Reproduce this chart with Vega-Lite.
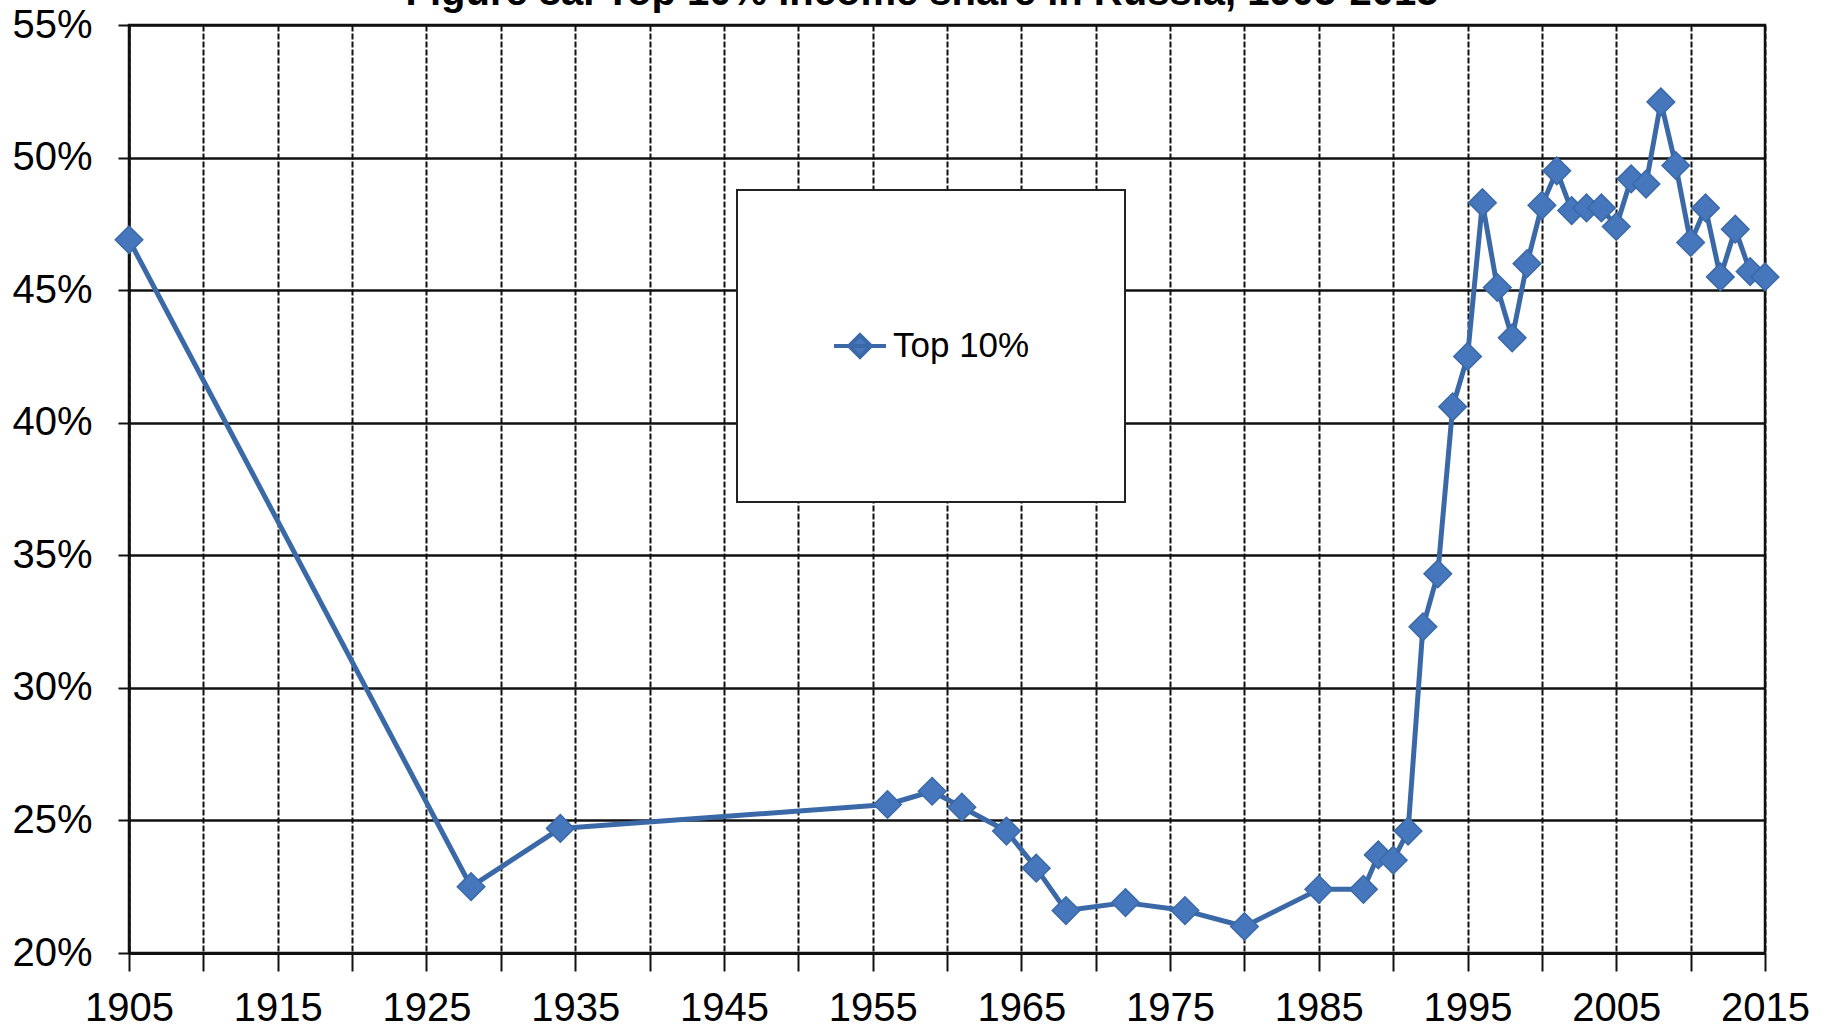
{
  "$schema": "https://vega.github.io/schema/vega-lite/v6.json",
  "width": 1636,
  "height": 928,
  "autosize": {"type": "none"},
  "padding": {"left": 129, "top": 25, "right": 64, "bottom": 76},
  "background": "white",
  "title": {
    "text": "Figure 8a. Top 10% income share in Russia, 1905-2015",
    "font": "Liberation Sans",
    "fontSize": 40,
    "fontWeight": "bold",
    "color": "#000000",
    "anchor": "middle",
    "baseline": "alphabetic",
    "offset": -40,
    "dx": -25
  },
  "config": {
    "view": {"stroke": "#111111", "strokeWidth": 2.5},
    "font": "Liberation Sans"
  },
  "data": {
    "values": [
      {"year": 1905, "share": 46.9},
      {"year": 1928, "share": 22.5},
      {"year": 1934, "share": 24.7},
      {"year": 1956, "share": 25.6},
      {"year": 1959, "share": 26.1},
      {"year": 1961, "share": 25.5},
      {"year": 1964, "share": 24.6},
      {"year": 1966, "share": 23.2},
      {"year": 1968, "share": 21.6},
      {"year": 1972, "share": 21.9},
      {"year": 1976, "share": 21.6},
      {"year": 1980, "share": 21.0},
      {"year": 1985, "share": 22.4},
      {"year": 1988, "share": 22.4},
      {"year": 1989, "share": 23.7},
      {"year": 1990, "share": 23.5},
      {"year": 1991, "share": 24.6},
      {"year": 1992, "share": 32.3},
      {"year": 1993, "share": 34.3},
      {"year": 1994, "share": 40.6},
      {"year": 1995, "share": 42.5},
      {"year": 1996, "share": 48.3},
      {"year": 1997, "share": 45.1},
      {"year": 1998, "share": 43.2},
      {"year": 1999, "share": 46.0},
      {"year": 2000, "share": 48.2},
      {"year": 2001, "share": 49.5},
      {"year": 2002, "share": 48.0},
      {"year": 2003, "share": 48.1},
      {"year": 2004, "share": 48.1},
      {"year": 2005, "share": 47.4},
      {"year": 2006, "share": 49.2},
      {"year": 2007, "share": 49.0},
      {"year": 2008, "share": 52.1},
      {"year": 2009, "share": 49.7},
      {"year": 2010, "share": 46.8},
      {"year": 2011, "share": 48.1},
      {"year": 2012, "share": 45.5},
      {"year": 2013, "share": 47.3},
      {"year": 2014, "share": 45.7},
      {"year": 2015, "share": 45.5}
    ]
  },
  "encoding": {
    "x": {
      "field": "year",
      "type": "quantitative",
      "scale": {"domain": [1905, 2015], "nice": false, "zero": false},
      "axis": {
        "title": null,
        "values": [1905, 1910, 1915, 1920, 1925, 1930, 1935, 1940, 1945, 1950, 1955, 1960, 1965, 1970, 1975, 1980, 1985, 1990, 1995, 2000, 2005, 2010, 2015],
        "format": "d",
        "labelExpr": "datum.value % 10 == 5 ? datum.label : ''",
        "grid": true,
        "gridColor": "#111111",
        "gridWidth": 2,
        "gridDash": [6, 2],
        "ticks": true,
        "tickSize": 18,
        "tickColor": "#111111",
        "tickWidth": 2,
        "domainColor": "#111111",
        "domainWidth": 3,
        "labelFont": "Liberation Sans",
        "labelFontSize": 40,
        "labelColor": "#000000",
        "labelPadding": 17,
        "labelFlush": false,
        "labelOverlap": false,
        "labelBound": false
      }
    },
    "y": {
      "field": "share",
      "type": "quantitative",
      "scale": {"domain": [20, 55], "nice": false, "zero": false},
      "axis": {
        "title": null,
        "values": [20, 25, 30, 35, 40, 45, 50, 55],
        "labelExpr": "datum.value + '%'",
        "grid": true,
        "gridColor": "#111111",
        "gridWidth": 2.5,
        "ticks": true,
        "tickSize": 11,
        "tickColor": "#111111",
        "tickWidth": 2,
        "domainColor": "#111111",
        "domainWidth": 2.5,
        "labelFont": "Liberation Sans",
        "labelFontSize": 40,
        "labelColor": "#000000",
        "labelPadding": 26,
        "labelFlush": false,
        "labelOverlap": false,
        "labelBound": false
      }
    }
  },
  "layer": [
    {
      "mark": {"type": "line", "strokeWidth": 5, "strokeJoin": "round"},
      "encoding": {
        "color": {
          "datum": "Top 10%",
          "scale": {"range": ["#3B69A8"]},
          "legend": {
            "orient": "none",
            "legendX": 608,
            "legendY": 165,
            "title": null,
            "padding": 95,
            "clipHeight": 122,
            "fillColor": "#ffffff",
            "strokeColor": "#222222",
            "symbolType": "M-1,0L1,0M0,-0.42L0.42,0L0,0.42L-0.42,0Z",
            "symbolSize": 2704,
            "symbolStrokeWidth": 4,
            "labelFont": "Liberation Sans",
            "labelFontSize": 35,
            "labelColor": "#000000",
            "labelOffset": 5,
            "labelLimit": 600,
            "encode": {
              "symbols": {
                "update": {
                  "fill": {"value": "#4677BD"},
                  "stroke": {"value": "#3B69A8"},
                  "strokeWidth": {"value": 4},
                  "opacity": {"value": 1}
                }
              },
              "legend": {
                "update": {"strokeWidth": {"value": 2}}
              }
            }
          }
        }
      }
    },
    {
      "mark": {
        "type": "point",
        "shape": "diamond",
        "filled": true,
        "size": 760,
        "fill": "#4677BD",
        "stroke": "#3B69A8",
        "strokeWidth": 1.5,
        "opacity": 1
      }
    }
  ]
}
